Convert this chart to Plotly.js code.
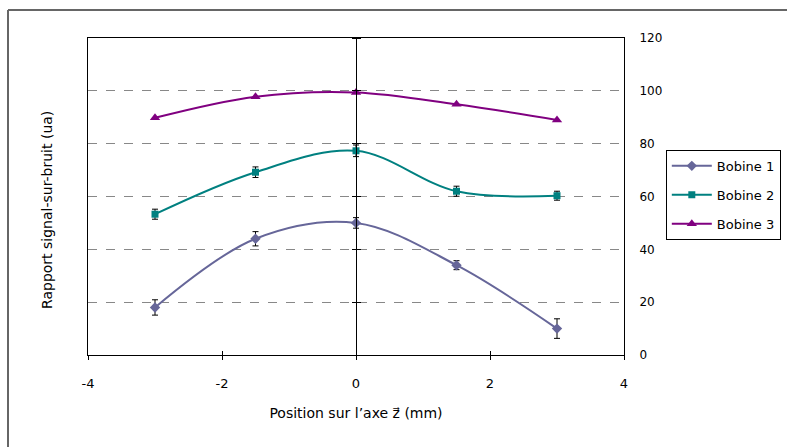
<!DOCTYPE html>
<html><head><meta charset="utf-8">
<script src="https://cdn.plot.ly/plotly-3.0.1.min.js"></script>
<style>html,body{margin:0;padding:0;background:#fff;}#chart{width:787px;height:447px;}</style>
</head><body><div id="chart"></div>
<script>
const positions = [-3, -1.5, 0, 1.5, 3];
const bobine1 = [18, 44, 50, 34, 10];
const bobine1Err = [2.9, 2.7, 2.0, 1.7, 3.7];
const bobine2 = [53.3, 69.2, 77.3, 62, 60.3];
const bobine2Err = [1.9, 2.0, 2.2, 1.9, 1.7];
const bobine3 = [89.8, 97.8, 99.4, 94.9, 89];
const seriesNames = ['Bobine 1', 'Bobine 2', 'Bobine 3'];
const xTicks = [-4, -2, 0, 2, 4];
const yTicks = [0, 20, 40, 60, 80, 100, 120];

const font = "DejaVu Sans, sans-serif";
function tr(name, y, err, color, symbol, size) {
  const t = {
    x: positions, y: y, name: name, legendgroup: name, type: 'scatter', mode: 'lines+markers',
    line: {color: color, width: 2, shape: 'spline', smoothing: 1},
    marker: {symbol: symbol, size: size, color: color}
  };
  if (err) t.error_y = {type: 'data', array: err, visible: true, color: '#000', thickness: 1, width: 3};
  return t;
}
const data = [
  tr(seriesNames[0], bobine1, bobine1Err, '#666699', 'diamond', 8),
  tr(seriesNames[1], bobine2, bobine2Err, '#008080', 'square', 7),
  tr(seriesNames[2], bobine3, null, '#800080', 'triangle-up', 9)
];
const layout = {
  width: 787, height: 447,
  margin: {l: 88, r: 163, t: 38, b: 92, autoexpand: false},
  paper_bgcolor: '#fff', plot_bgcolor: '#fff',
  font: {family: font, size: 12, color: '#000'},
  showlegend: true,
  legend: {x: 1.078, y: 0.647, xanchor: 'left', yanchor: 'top',
    bordercolor: '#000', borderwidth: 1, bgcolor: '#fff',
    font: {family: font, size: 13}, tracegroupgap: 9, itemwidth: 40},
  xaxis: {range: [-4, 4], tickvals: xTicks, ticktext: xTicks.map(String),
    showgrid: false, zeroline: false, showline: true, linecolor: '#000', linewidth: 1,
    mirror: true, ticks: 'outside', ticklen: 4, tickcolor: '#000', ticklabelstandoff: 12,
    title: {text: 'Position sur l\u2019axe z\u20D7 (mm)', font: {family: font, size: 14}, standoff: 18},
    tickfont: {family: font, size: 13}},
  xaxis2: {range: [-4, 4], overlaying: 'x', anchor: 'y', side: 'bottom', tickvals: xTicks,
    showticklabels: false, ticks: 'inside', ticklen: 4, tickcolor: '#000',
    showgrid: false, zeroline: false, showline: false},
  yaxis: {range: [0, 120], tickvals: yTicks, side: 'right',
    showgrid: true, gridcolor: '#888', griddash: 'dash', gridwidth: 1,
    zeroline: false, showline: true, linecolor: '#000', linewidth: 1, mirror: true,
    ticks: '', ticklabelstandoff: 12, tickfont: {family: font, size: 12}},
  yaxis2: {range: [0, 120], overlaying: 'y', anchor: 'free', position: 0.5, side: 'left',
    tickvals: yTicks, showticklabels: false, ticks: 'outside', ticklen: 4, tickcolor: '#000',
    showgrid: false, zeroline: false, showline: true, linecolor: '#000', linewidth: 1},
  yaxis3: {range: [0, 120], overlaying: 'y', anchor: 'free', position: 0.5, side: 'right',
    tickvals: yTicks, showticklabels: false, ticks: 'outside', ticklen: 4, tickcolor: '#000',
    showgrid: false, zeroline: false, showline: false},
  annotations: [{
    text: 'Rapport signal-sur-bruit (ua)', textangle: -90, showarrow: false,
    xref: 'paper', yref: 'paper', x: (47 - 88) / 536, y: (355 - 210) / 317,
    xanchor: 'center', yanchor: 'middle', font: {family: font, size: 14}
  }],
  shapes: [
    {type: 'line', xref: 'paper', yref: 'paper', x0: (8 - 88) / 536, x1: (800 - 88) / 536,
      y0: (355 - 10) / 317, y1: (355 - 10) / 317, line: {color: '#666', width: 2}},
    {type: 'line', xref: 'paper', yref: 'paper', x0: (8 - 88) / 536, x1: (8 - 88) / 536,
      y0: (355 - 10) / 317, y1: (355 - 460) / 317, line: {color: '#666', width: 2}}
  ]
};
data.push({x: [0], y: [0], xaxis: 'x2', yaxis: 'y2', mode: 'markers', marker: {opacity: 0}, showlegend: false, hoverinfo: 'skip'});
data.push({x: [0], y: [0], xaxis: 'x2', yaxis: 'y3', mode: 'markers', marker: {opacity: 0}, showlegend: false, hoverinfo: 'skip'});
Plotly.newPlot('chart', data, layout, {displayModeBar: false, staticPlot: true});
</script></body></html>
